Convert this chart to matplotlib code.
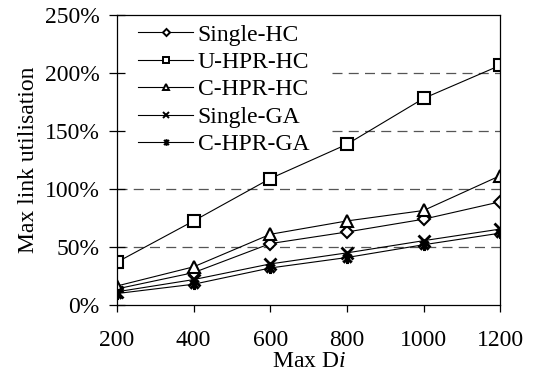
import matplotlib

matplotlib.use("Agg")
import matplotlib.pyplot as plt
from matplotlib.path import Path
from matplotlib.ticker import FuncFormatter

max_di = [200, 400, 600, 800, 1000, 1200]
single_hc = [14, 28, 53, 63, 74, 89]
u_hpr_hc = [37, 72.5, 109, 138.5, 178, 206.5]
c_hpr_hc = [16.5, 33, 61, 72.5, 81.5, 111.5]
single_ga = [11.5, 22, 35.5, 45, 55.5, 65.5]
c_hpr_ga = [10, 18, 32, 41, 52, 62]
grid_levels = [50, 100, 150, 200]

plt.rcParams["font.family"] = ["Liberation Serif", "DejaVu Serif"]
plt.rcParams["mathtext.fontset"] = "custom"
plt.rcParams["mathtext.it"] = "Liberation Serif:italic"
plt.rcParams["mathtext.rm"] = "Liberation Serif"

# Excel-style asterisk: an x with a vertical bar
asterisk = Path(
    [(0, -1), (0, 1), (-0.75, -0.75), (0.75, 0.75), (-0.75, 0.75), (0.75, -0.75)],
    [Path.MOVETO, Path.LINETO] * 3,
)

fig = plt.figure(figsize=(5.39, 3.80), dpi=100)
ax = fig.add_axes([0.217, 0.197, 0.711, 0.764])

# gridlines that pass behind the legend start where the legend box ends
legend_box_end = 0.56
for lvl in grid_levels:
    start = legend_box_end if lvl > 125 else 0.0
    ax.axhline(lvl, xmin=start, color="#555555", lw=0.9, ls=(0, (8, 5)), zorder=0)

style = dict(color="black", lw=0.8, mec="black", mew=1.5, ms=8)
ax.plot(max_di, single_hc, marker="D", mfc="white", label="Single-HC", **{**style, "ms": 6})
ax.plot(max_di, u_hpr_hc, marker="s", mfc="white", label="U-HPR-HC", **style)
ax.plot(max_di, c_hpr_hc, marker="^", mfc="white", label="C-HPR-HC", **style)
ax.plot(max_di, single_ga, marker="x", label="Single-GA", **{**style, "mew": 2})
ax.plot(max_di, c_hpr_ga, marker=asterisk, label="C-HPR-GA", **{**style, "mew": 2.2})

ax.set_xlim(200, 1200)
ax.set_ylim(0, 250)
ax.set_xticks(max_di)
ax.set_yticks([0, 50, 100, 150, 200, 250])
ax.yaxis.set_major_formatter(FuncFormatter(lambda v, _: f"{v:.0f}%"))
ax.tick_params(axis="y", direction="inout", length=11, width=0.9, labelsize=17, pad=7)
ax.tick_params(axis="x", direction="out", length=5, width=0.9, labelsize=17, pad=13)
for sp in ax.spines.values():
    sp.set_linewidth(0.9)

ax.set_xlabel("Max D$\\mathit{i}$", fontsize=17, labelpad=0)
ax.set_ylabel("Max link utilisation", fontsize=17, labelpad=4)

leg = ax.legend(
    loc="upper left",
    bbox_to_anchor=(0.016, 1.021),
    frameon=False,
    fontsize=17,
    markerscale=0.6,
    handlelength=2.3,
    handletextpad=0.21,
    labelspacing=0.25,
    borderpad=0.15,
    borderaxespad=0.5,
)
for h in leg.legend_handles:
    h.set_markeredgewidth(1.4)

fig.savefig("out.png", dpi=100)
